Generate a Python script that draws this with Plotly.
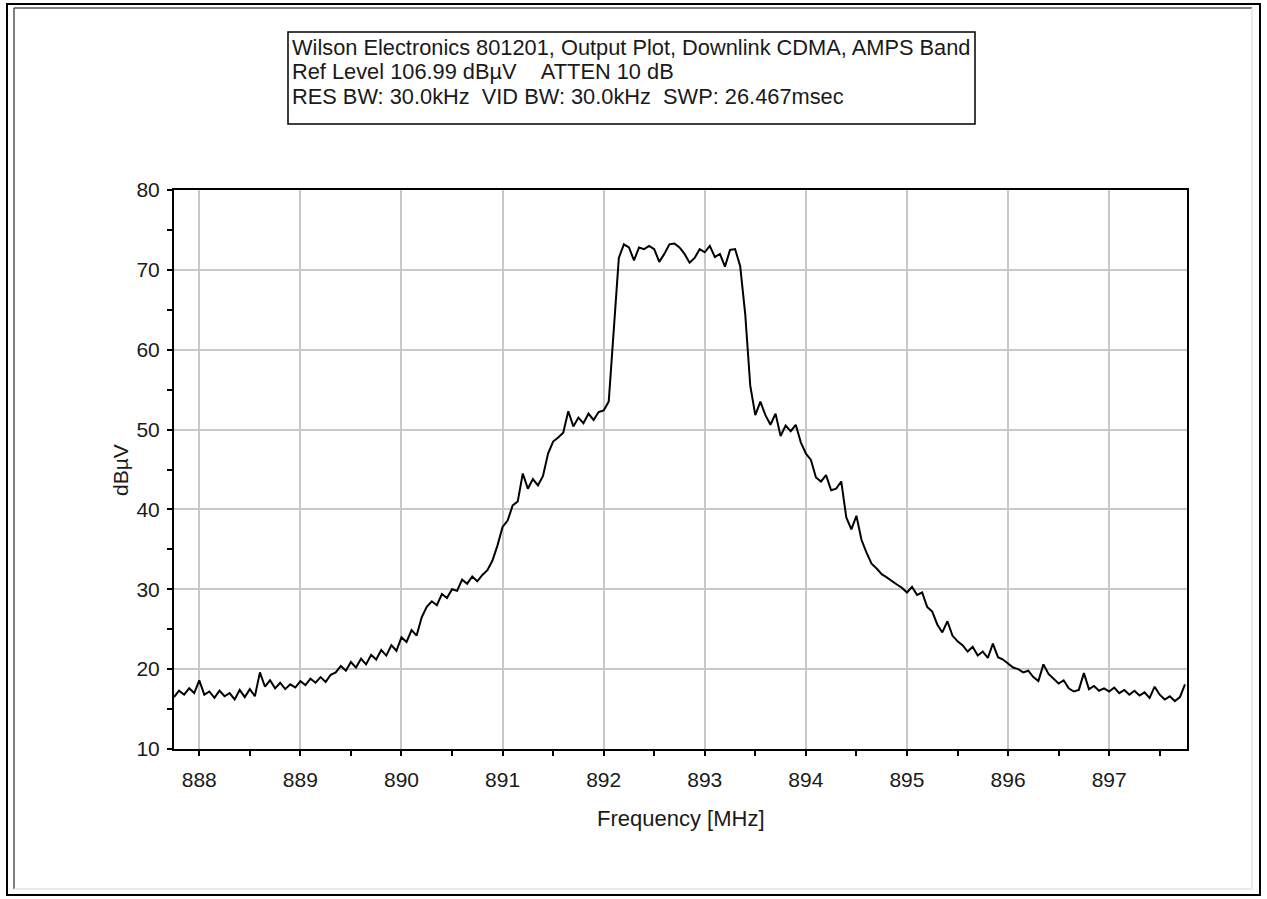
import plotly.graph_objects as go

# ---- data ----
FREQ_START = 887.75   # MHz
FREQ_STEP = 0.05      # MHz
LEVEL_DBUV = [
    16.5, 17.3, 16.8, 17.6, 17.0, 18.6, 16.8, 17.2, 16.4, 17.3,
    16.6, 17.0, 16.2, 17.4, 16.5, 17.5, 16.6, 19.6, 17.8, 18.6,
    17.6, 18.3, 17.5, 18.1, 17.7, 18.5, 18.0, 18.8, 18.3, 19.0,
    18.4, 19.3, 19.6, 20.4, 19.8, 20.9, 20.2, 21.3, 20.6, 21.8,
    21.2, 22.4, 21.7, 23.0, 22.3, 24.0, 23.4, 24.9, 24.2, 26.5,
    27.8, 28.5, 28.0, 29.4, 28.9, 30.0, 29.8, 31.2, 30.7, 31.6,
    31.0, 31.8, 32.4, 33.6, 35.5, 37.8, 38.6, 40.5, 41.0, 44.5,
    42.6, 43.8, 43.0, 44.2, 47.0, 48.5, 49.0, 49.6, 52.3, 50.4,
    51.5, 50.8, 52.0, 51.2, 52.2, 52.4, 53.5, 62.0, 71.5, 73.2,
    72.8, 71.2, 72.8, 72.6, 73.0, 72.6, 71.0, 72.0, 73.2, 73.3,
    72.8, 72.0, 70.9, 71.5, 72.6, 72.2, 73.0, 71.6, 72.0, 70.4,
    72.5, 72.6, 70.5, 64.5, 55.5, 51.8, 53.5, 51.8, 50.6, 52.0,
    49.2, 50.5, 49.8, 50.6, 48.4, 47.0, 46.2, 44.0, 43.5, 44.3,
    42.4, 42.6, 43.5, 39.0, 37.5, 39.2, 36.2, 34.6, 33.2, 32.6,
    31.9, 31.5, 31.0, 30.6, 30.2, 29.6, 30.3, 29.3, 29.6, 27.8,
    27.2, 25.6, 24.6, 26.0, 24.2, 23.5, 23.0, 22.2, 22.8, 21.7,
    22.2, 21.4, 23.2, 21.5, 21.2, 20.7, 20.2, 20.0, 19.6, 19.8,
    19.0, 18.5, 20.6, 19.4, 18.8, 18.2, 18.6, 17.6, 17.2, 17.4,
    19.5, 17.5, 17.9, 17.3, 17.6, 17.2, 17.7, 17.0, 17.4, 16.8,
    17.3, 16.7, 17.1, 16.4, 17.8, 16.8, 16.2, 16.6, 16.0, 16.5,
    18.1,
]
X_TICKS = [888, 889, 890, 891, 892, 893, 894, 895, 896, 897]
Y_TICKS = [10, 20, 30, 40, 50, 60, 70, 80]
X_RANGE = [887.75, 897.77]
Y_RANGE = [10, 80]

TITLE_LINES = [
    "Wilson Electronics 801201, Output Plot, Downlink CDMA, AMPS Band",
    "Ref Level 106.99 dBµV&nbsp;&nbsp;&nbsp;&nbsp;ATTEN 10 dB",
    "RES BW: 30.0kHz&nbsp;&nbsp;VID BW: 30.0kHz&nbsp;&nbsp;SWP: 26.467msec",
]
X_TITLE = "Frequency [MHz]"
Y_TITLE = "dBµV"

freq = [FREQ_START + FREQ_STEP * i for i in range(len(LEVEL_DBUV))]

W, H = 1267, 899
ML, MR, MT, MB = 174, 80, 190, 150
PW, PH = W - ML - MR, H - MT - MB


def px(xp):
    return (xp - ML) / PW


def py(yp):
    return (H - MB - yp) / PH


FONT = "Liberation Sans, Arial, sans-serif"
TXT = "#1a1a1a"

fig = go.Figure()
fig.add_trace(go.Scatter(x=freq, y=LEVEL_DBUV, mode="lines",
                         line=dict(color="black", width=2),
                         hoverinfo="x+y", showlegend=False))

axis_common = dict(
    showline=True, linecolor="black", linewidth=2, mirror=True,
    showgrid=True, gridcolor="#c8c8c8", gridwidth=1.5,
    ticks="outside", ticklen=5, tickwidth=1.5, tickcolor="black",
    tickfont=dict(family=FONT, size=21, color=TXT),
    zeroline=False,
)
fig.update_xaxes(range=X_RANGE, tickvals=X_TICKS, ticktext=[str(t) for t in X_TICKS],
                 ticklabelstandoff=6,
                 minor=dict(dtick=0.5, ticks="outside", ticklen=5, tickwidth=1.5,
                            tickcolor="black", showgrid=False),
                 **axis_common)
fig.update_yaxes(range=Y_RANGE, tickvals=Y_TICKS, ticktext=[str(t) for t in Y_TICKS],
                 ticklabelstandoff=3,
                 minor=dict(dtick=5, ticks="outside", ticklen=5, tickwidth=1.5,
                            tickcolor="black", showgrid=False),
                 **axis_common)

annotations = []
for k, line in enumerate(TITLE_LINES):
    annotations.append(dict(
        text=line, xref="paper", yref="paper",
        x=px(290), y=py(47 + 25 * k), xanchor="left", yanchor="middle",
        align="left", showarrow=False,
        font=dict(family=FONT, size=21.8, color=TXT)))
annotations += [
    dict(text=X_TITLE, xref="paper", yref="paper",
         x=px(681), y=py(818), xanchor="center", yanchor="middle",
         showarrow=False, font=dict(family=FONT, size=22, color=TXT)),
    dict(text=Y_TITLE, xref="paper", yref="paper",
         x=px(120), y=py(470), xanchor="center", yanchor="middle", textangle=-90,
         showarrow=False, font=dict(family=FONT, size=21, color=TXT)),
]

shapes = [
    # title box
    dict(type="rect", xref="paper", yref="paper",
         x0=px(288), x1=px(975), y0=py(124), y1=py(32),
         line=dict(color="black", width=1.5), layer="above"),
    # outer frame
    dict(type="rect", xref="paper", yref="paper",
         x0=px(7), x1=px(1260), y0=py(895), y1=py(4),
         line=dict(color="black", width=2)),
    dict(type="line", xref="paper", yref="paper",
         x0=px(14), x1=px(14), y0=py(889), y1=py(8), line=dict(color="#555", width=1.5)),
    dict(type="line", xref="paper", yref="paper",
         x0=px(14), x1=px(1252), y0=py(8), y1=py(8), line=dict(color="#555", width=1.5)),
    dict(type="line", xref="paper", yref="paper",
         x0=px(1252), x1=px(1252), y0=py(889), y1=py(8), line=dict(color="#e4e4e4", width=1.5)),
    dict(type="line", xref="paper", yref="paper",
         x0=px(14), x1=px(1252), y0=py(889), y1=py(889), line=dict(color="#e4e4e4", width=1.5)),
]

fig.update_layout(
    width=W, height=H, autosize=False,
    margin=dict(l=ML, r=MR, t=MT, b=MB, pad=0),
    paper_bgcolor="white", plot_bgcolor="white",
    annotations=annotations, shapes=shapes,
    font=dict(family=FONT),
)

fig.write_html("out.html", config={"displayModeBar": False},
               post_script="document.body.style.margin='0';document.body.style.overflow='hidden';")
